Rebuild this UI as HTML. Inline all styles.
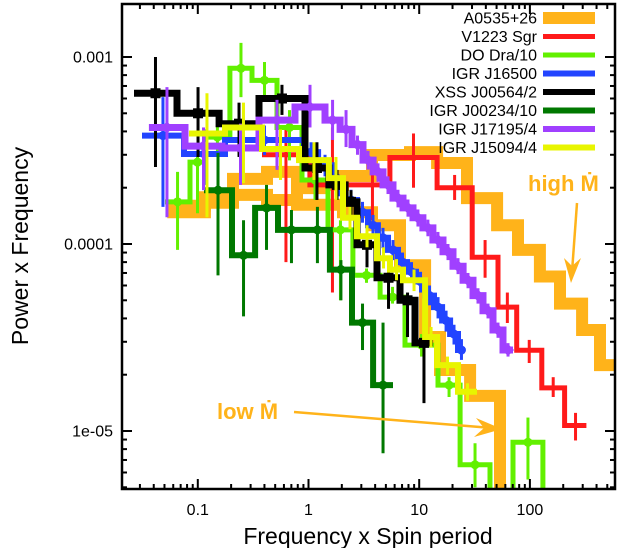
<!DOCTYPE html>
<html><head><meta charset="utf-8"><style>
html,body{margin:0;padding:0;background:#fff;}
svg{display:block;font-family:"Liberation Sans",sans-serif;}
</style></head><body>
<svg id="chart" width="619" height="548" viewBox="0 0 619 548" xmlns="http://www.w3.org/2000/svg">
<defs><clipPath id="plotclip"><rect x="122" y="4" width="493" height="485"/></clipPath></defs>
<rect x="0" y="0" width="619" height="548" fill="#fff"/>
<g id="series" clip-path="url(#plotclip)"></g>
<g id="axes"></g>
<g id="legend"></g>
<text x="368" y="544" font-size="23" text-anchor="middle">Frequency x Spin period</text>
<text x="0" y="0" font-size="23" text-anchor="middle" transform="translate(28,246) rotate(-90)">Power x Frequency</text>
<g>
<text x="528" y="191" font-size="22" font-weight="bold" fill="#ffb31a">high Ṁ</text>
<line x1="577" y1="203" x2="572" y2="272" stroke="#ffb31a" stroke-width="2.5"/>
<polygon points="571,283 564,258 572,266 581,258" fill="#ffb31a"/>
</g>
<g>
<text x="217" y="419" font-size="22" font-weight="bold" fill="#ffb31a">low Ṁ</text>
<line x1="294" y1="412" x2="492" y2="428" stroke="#ffb31a" stroke-width="2.5"/>
<polygon points="502,429 476,418 484,428 474,437" fill="#ffb31a"/>
</g>
</svg>
<script>
// ---- data ----
const orangeHighEdges=[0.053,0.116,0.208,0.422,0.787,1.35,2.05,3.75,8.26,14.5,27.0,50.5,78,123,187,296,430,612];
const orangeHighVals=[1.6e-4,1.78e-4,2.23e-4,2.43e-4,1.99e-4,2.07e-4,2.31e-4,2.99e-4,3.1e-4,2.71e-4,1.76e-4,1.26e-4,9.3e-5,6.7e-5,4.8e-5,3.47e-5,2.25e-5];
const orangeLowEdges=[0.053,0.116,0.208,0.422,0.787,2.05,3.75,6.71,11.3,15.4,28.8,53.7,70.4];
const orangeLowVals=[1.48e-4,1.66e-4,1.83e-4,1.72e-4,1.62e-4,1.48e-4,1.26e-4,7.7e-5,3.18e-5,2.12e-5,1.54e-5,3.3e-6];

const redEdges=[0.38,1.03,2.63,5.44,14.5,30.1,51.5,76,128,206,324];
const redVals=[3.0e-4,2.07e-4,2.07e-4,2.9e-4,2.0e-4,8.5e-5,4.6e-5,2.7e-5,1.7e-5,1.07e-5];
const redLo=[8e-5,5.5e-5,1.34e-4,2.0e-4,1.72e-4,6.6e-5,3.78e-5,2.31e-5,1.52e-5,8.9e-6];
const redHi=[4.1e-4,4.2e-4,2.92e-4,3.9e-4,2.34e-4,1.05e-4,5.5e-5,3.07e-5,1.94e-5,1.25e-5];

const greenEdges=[0.0506,0.0851,0.116,0.195,0.309,0.519,0.874,1.50,2.52,4.43,7.45,14.8,23.4,43.6,70.4,131,220];
const greenVals=[1.68e-4,2.74e-4,3.73e-4,8.7e-4,7.5e-4,4.2e-4,2.2e-4,1.19e-4,6.8e-5,5.2e-5,2.88e-5,1.76e-5,6.6e-6,3.3e-6,8.7e-6,3.0e-6];
const greenLo=[9.3e-5,1.46e-4,3.0e-4,6.1e-4,5.9e-4,2.8e-4,1.72e-4,5.0e-5,6.2e-5,4.8e-5,2.5e-5,1.52e-5,5.0e-6,null,5.5e-6,null];
const greenHi=[2.43e-4,2.92e-4,4.3e-4,1.19e-3,9.4e-4,5.2e-4,2.49e-4,1.34e-4,7.4e-5,5.9e-5,3.3e-5,1.94e-5,8.6e-6,null,1.18e-5,null];

const blueEdges=[0.0313,0.075,0.176,0.91,1.22,1.63,2.14,2.74,3.45,4.24,5.23,6.43,7.76,9.36,11.3,13.6,16.1,19.0,22.4,25.9];
const blueVals=[3.8e-4,3.03e-4,3.6e-4,3.1e-4,2.64e-4,2.07e-4,1.72e-4,1.48e-4,1.26e-4,1.08e-4,9.3e-5,8.0e-5,7.1e-5,6.3e-5,5.3e-5,4.6e-5,3.9e-5,3.3e-5,2.71e-5];
const blueLo=[1.58e-4,2.07e-4,2.99e-4,2.7e-4,2.3e-4,1.8e-4,1.5e-4,1.3e-4,1.1e-4,9.5e-5,8.2e-5,7.0e-5,6.2e-5,5.5e-5,4.7e-5,4.0e-5,3.4e-5,2.9e-5,2.4e-5];
const blueHi=[6.1e-4,4.1e-4,4.3e-4,3.5e-4,3.0e-4,2.35e-4,1.95e-4,1.68e-4,1.43e-4,1.22e-4,1.05e-4,9.0e-5,8.0e-5,7.1e-5,6.0e-5,5.2e-5,4.4e-5,3.7e-5,3.1e-5];

const blackEdges=[0.0265,0.0649,0.1556,0.357,0.929,1.53,2.14,2.74,4.16,6.71,9.17,13.3];
const blackVals=[6.4e-4,5.0e-4,4.4e-4,6.0e-4,2.55e-4,2.07e-4,1.68e-4,9.9e-5,6.6e-5,5.0e-5,2.96e-5];
const blackLo=[2.58e-4,2.92e-4,2.92e-4,4.9e-4,1.72e-4,1.72e-4,1.43e-4,7.5e-5,4.5e-5,3.18e-5,1.41e-5];
const blackHi=[1e-3,6.9e-4,5.7e-4,7.1e-4,3.5e-4,2.49e-4,1.94e-4,1.01e-4,7.3e-5,5.5e-5,3.47e-5];

const dgreenEdges=[0.1138,0.2037,0.329,0.53,0.929,1.56,2.47,3.83,5.80];
const dgreenVals=[1.94e-4,8.7e-5,1.56e-4,1.19e-4,1.19e-4,7.3e-5,3.8e-5,1.76e-5];
const dgreenLo=[6.8e-5,4.1e-5,9.3e-5,7.9e-5,7.9e-5,5.0e-5,2.71e-5,7.6e-6];
const dgreenHi=[3.07e-4,1.34e-4,2.07e-4,1.52e-4,1.58e-4,8.2e-5,4.8e-5,3.8e-5];

const purpleEdges=[0.0362,0.0766,0.1655,0.357,0.755,1.41,1.93,2.47,3.11,3.83,4.71,5.80,7.14,8.79,10.8,13.3,16.4,20.2,24.9,30.6,37.7,46.4,57.2,70.4];
const purpleVals=[4.2e-4,3.34e-4,3.26e-4,4.6e-4,5.4e-4,4.6e-4,4.1e-4,3.4e-4,2.81e-4,2.43e-4,2.07e-4,1.76e-4,1.56e-4,1.38e-4,1.22e-4,1.05e-4,9.1e-5,7.6e-5,6.4e-5,5.3e-5,4.4e-5,3.47e-5,2.71e-5];
const purpleLo=[1.39e-4,1.94e-4,2.07e-4,2.49e-4,4.2e-4,3.6e-4,3.3e-4,3.0e-4,2.5e-4,2.15e-4,1.85e-4,1.57e-4,1.4e-4,1.24e-4,1.1e-4,9.5e-5,8.2e-5,6.9e-5,5.8e-5,4.8e-5,4.0e-5,3.15e-5,2.5e-5];
const purpleHi=[6.9e-4,4.2e-4,4.4e-4,5.9e-4,7.1e-4,5.9e-4,5.2e-4,3.8e-4,3.15e-4,2.7e-4,2.3e-4,1.95e-4,1.73e-4,1.53e-4,1.35e-4,1.16e-4,1.0e-4,8.4e-5,7.0e-5,5.8e-5,4.8e-5,3.8e-5,2.95e-5];

const yellowEdges=[0.0832,0.176,0.380,0.821,1.53,2.05,2.74,4.16,5.45,7.14,11.3,14.5,22.4,33.3];
const yellowVals=[3.9e-4,4.2e-4,3.22e-4,2.81e-4,2.25e-4,1.38e-4,1.10e-4,8.4e-5,7.3e-5,6.4e-5,3.18e-5,2.25e-5,1.62e-5];
const yellowLo=[1.39e-4,2.12e-4,2.2e-4,2.2e-4,1.72e-4,1.2e-4,9.6e-5,7.4e-5,6.4e-5,5.6e-5,2.8e-5,2.0e-5,1.45e-5];
const yellowHi=[6.4e-4,5.7e-4,4.1e-4,3.5e-4,2.92e-4,1.58e-4,1.26e-4,9.6e-5,8.3e-5,7.3e-5,3.6e-5,2.5e-5,1.8e-5];

const legendLabels=["A0535+26","V1223 Sgr","DO Dra/10","IGR J16500","XSS J00564/2","IGR J00234/10","IGR J17195/4","IGR J15094/4"];
const xTickVals=[0.1,1,10,100];
const xTickLabels=["0.1","1","10","100"];
const yTickVals=[1e-3,1e-4,1e-5];
const yTickLabels=["0.001","0.0001","1e-05"];

// ---- axes functions ----
const L=122,R=615,T=4,B=489;
function X(v){return 308.5+110.7*Math.log10(v);}
function Y(v){return 244-187*(Math.log10(v)+4);}
const NS="http://www.w3.org/2000/svg";
function mk(tag,attrs,parent){const e=document.createElementNS(NS,tag);for(const k in attrs)e.setAttribute(k,attrs[k]);parent.appendChild(e);return e;}

const gS=document.getElementById('series');
function stepPath(edges,vals){
  let d="M"+X(edges[0]).toFixed(1)+" "+Y(vals[0]).toFixed(1);
  for(let i=0;i<vals.length;i++){
    if(i>0)d+=" V"+Y(vals[i]).toFixed(1);
    d+=" H"+X(edges[i+1]).toFixed(1);
  }
  return d;
}
function drawSeries(name,edges,vals,lo,hi,color,w,marker){
  const g=mk('g',{},gS);
  
  
  const p=mk('path',{d:stepPath(edges,vals),fill:'none',stroke:color,'stroke-width':w,'stroke-linejoin':'miter'},g);
  
  
  if(!lo)return;
  for(let i=0;i<vals.length;i++){
    const cx=X(Math.sqrt(edges[i]*edges[i+1]));
    if(lo[i]!=null){
      const eb=mk('line',{x1:cx,x2:cx,y1:Y(lo[i]),y2:Y(hi[i]),stroke:color,'stroke-width':3},g);
      
      
    }
    if(marker){
      const cy=Y(vals[i]);let m;
      if(marker==='diamond')m=mk('polygon',{points:(cx-6)+","+cy+" "+cx+","+(cy-6)+" "+(cx+6)+","+cy+" "+cx+","+(cy+6),fill:color},g);
      else if(marker==='square')m=mk('rect',{x:cx-5,y:cy-5,width:10,height:10,fill:color},g);
      else m=mk('circle',{cx:cx,cy:cy,r:4.5,fill:color},g);
      
      
    }
  }
}
const cOr="#ffb31a",cRed="#ff1a1a",cGr="#62f000",cBl="#2244ff",cBk="#000000",cDg="#007800",cPu="#a040ff",cYe="#e8f500";
drawSeries('a0535-high',orangeHighEdges,orangeHighVals,null,null,cOr,12,null);
drawSeries('a0535-low',orangeLowEdges,orangeLowVals,null,null,cOr,12,null);
drawSeries('v1223-sgr',redEdges,redVals,redLo,redHi,cRed,5,null);
drawSeries('do-dra',greenEdges,greenVals,greenLo,greenHi,cGr,5,'circle');
drawSeries('igr-j16500',blueEdges,blueVals,blueLo,blueHi,cBl,6,'circle');
drawSeries('xss-j00564',blackEdges,blackVals,blackLo,blackHi,cBk,7,'square');
drawSeries('igr-j00234',dgreenEdges,dgreenVals,dgreenLo,dgreenHi,cDg,6,'circle');
drawSeries('igr-j17195',purpleEdges,purpleVals,purpleLo,purpleHi,cPu,7,'diamond');
drawSeries('igr-j15094',yellowEdges,yellowVals,yellowLo,yellowHi,cYe,6,null);

// ---- axes ----
const gA=document.getElementById('axes');
const frame=mk('rect',{x:L,y:T,width:R-L,height:B-T,fill:'none',stroke:'#000','stroke-width':2.5},gA);


for(let dec=-2;dec<=2;dec++){
  for(let m=1;m<=9;m++){
    const v=m*Math.pow(10,dec);const x=X(v);
    if(x<L||x>R)continue;
    const len=(m===1)?10:5;
    const t1=mk('line',{x1:x,x2:x,y1:B,y2:B-len,stroke:'#000','stroke-width':2},gA);
    
    
    const t2=mk('line',{x1:x,x2:x,y1:T,y2:T+len,stroke:'#000','stroke-width':2},gA);
    
    
  }
}
for(let dec=-6;dec<=-3;dec++){
  for(let m=1;m<=9;m++){
    const v=m*Math.pow(10,dec);const y=Y(v);
    if(y<T||y>B)continue;
    const len=(m===1)?10:5;
    const t1=mk('line',{x1:L,x2:L+len,y1:y,y2:y,stroke:'#000','stroke-width':2},gA);
    
    
    const t2=mk('line',{x1:R,x2:R-len,y1:y,y2:y,stroke:'#000','stroke-width':2},gA);
    
    
  }
}
for(let i=0;i<xTickVals.length;i++){
  const t=mk('text',{x:X(xTickVals[i]),y:515,'font-size':16,'text-anchor':'middle'},gA);
  t.textContent=xTickLabels[i];
  
  
}
for(let i=0;i<yTickVals.length;i++){
  const t=mk('text',{x:113,y:Y(yTickVals[i])+5.5,'font-size':16,'text-anchor':'end'},gA);
  t.textContent=yTickLabels[i];
  
  
}

// ---- legend ----
const gL=document.getElementById('legend');
const legColors=[cOr,cRed,cGr,cBl,cBk,cDg,cPu,cYe];
const legWidths=[12,5,5,6,6,6,6,6];
for(let i=0;i<legendLabels.length;i++){
  const y=18+i*18.5;
  const g=mk('g',{},gL);
  
  
  const t=mk('text',{x:537,y:y+5.5,'font-size':16,'text-anchor':'end'},g);
  t.textContent=legendLabels[i];
  const ln=mk('line',{x1:543,x2:595,y1:y,y2:y,stroke:legColors[i],'stroke-width':legWidths[i]},g);
  
  
}
</script>
</body></html>
